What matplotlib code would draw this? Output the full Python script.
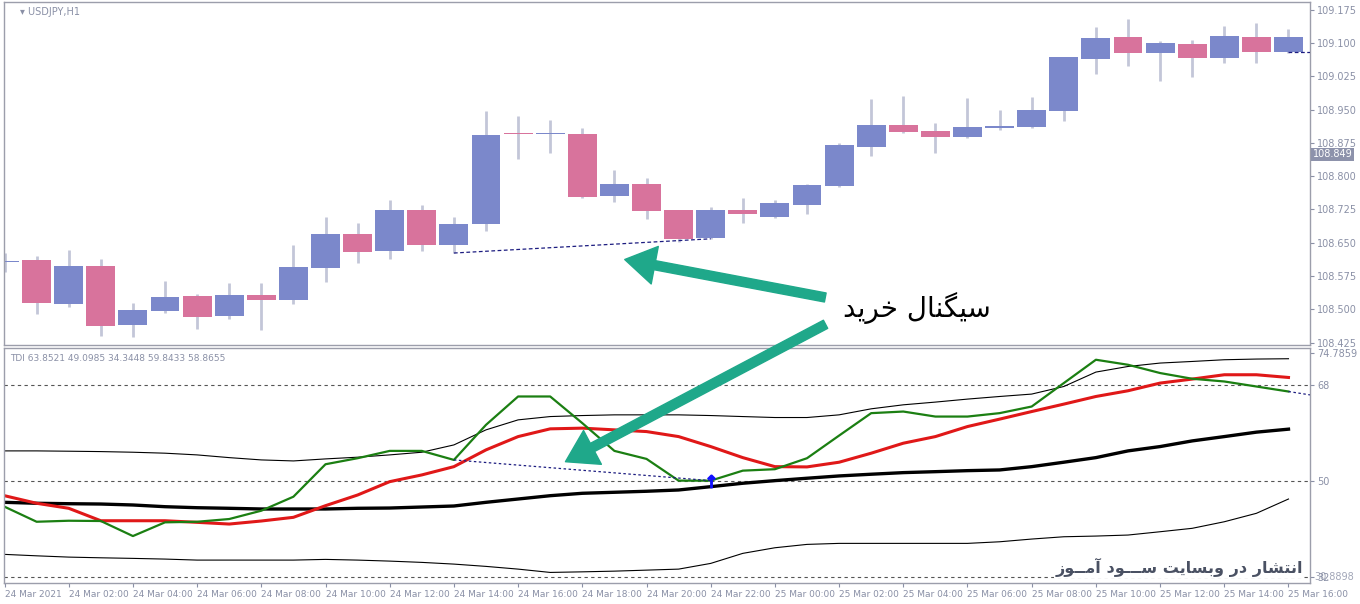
import matplotlib.pyplot as plt
import numpy as np
from matplotlib.patches import FancyArrowPatch
from matplotlib.transforms import blended_transform_factory

# USDJPY H1, 24 Mar 2021 00:00 .. 25 Mar 16:00
opens = [108.606, 108.611, 108.512, 108.598, 108.465, 108.496, 108.530, 108.485, 108.532, 108.521,
         108.593, 108.670, 108.632, 108.724, 108.645, 108.692, 108.895, 108.894, 108.895, 108.755,
         108.783, 108.724, 108.661, 108.724, 108.708, 108.735, 108.778, 108.866, 108.915, 108.902,
         108.888, 108.909, 108.911, 108.947, 109.064, 109.114, 109.078, 109.098, 109.066, 109.114, 109.080]
highs = [108.627, 108.620, 108.634, 108.614, 108.514, 108.564, 108.535, 108.559, 108.559, 108.645,
         108.708, 108.695, 108.746, 108.735, 108.708, 108.947, 108.936, 108.927, 108.909, 108.814,
         108.796, 108.724, 108.731, 108.751, 108.746, 108.783, 108.875, 108.974, 108.981, 108.920,
         108.976, 108.949, 108.978, 109.068, 109.136, 109.154, 109.105, 109.107, 109.138, 109.145, 109.132]
lows = [108.584, 108.490, 108.505, 108.440, 108.438, 108.492, 108.456, 108.478, 108.454, 108.512,
        108.562, 108.605, 108.614, 108.632, 108.627, 108.677, 108.839, 108.852, 108.751, 108.742,
        108.704, 108.652, 108.659, 108.695, 108.706, 108.715, 108.776, 108.846, 108.897, 108.852,
        108.886, 108.904, 108.909, 108.924, 109.030, 109.048, 109.014, 109.023, 109.055, 109.055, 109.078]
closes = [108.609, 108.514, 108.598, 108.463, 108.499, 108.528, 108.483, 108.532, 108.521, 108.596,
          108.670, 108.629, 108.724, 108.645, 108.692, 108.893, 108.894, 108.895, 108.753, 108.783,
          108.722, 108.659, 108.724, 108.715, 108.740, 108.780, 108.870, 108.915, 108.900, 108.888,
          108.911, 108.913, 108.949, 109.068, 109.111, 109.078, 109.100, 109.066, 109.116, 109.080, 109.114]

# TDI indicator lines
tdi_green = [45.18, 42.36, 42.55, 42.50, 39.68, 42.25, 42.36, 42.87, 44.43, 47.05,
             53.13, 54.26, 55.63, 55.63, 53.94, 60.51, 65.82, 65.82, 60.83, 55.63,
             54.13, 50.06, 50.06, 51.93, 52.20, 54.26, 58.50, 62.70, 63.00, 62.06,
             62.06, 62.70, 63.94, 68.33, 72.70, 71.76, 70.21, 69.14, 68.63, 67.69, 66.75]
tdi_red = [47.24, 45.82, 44.88, 42.55, 42.55, 42.55, 42.25, 41.93, 42.50, 43.19,
           45.37, 47.37, 49.87, 51.13, 52.68, 55.82, 58.31, 59.76, 59.89, 59.57,
           59.25, 58.31, 56.44, 54.37, 52.68, 52.63, 53.51, 55.20, 57.07, 58.31,
           60.19, 61.58, 63.00, 64.39, 65.82, 66.89, 68.33, 69.08, 69.89, 69.89, 69.38]
tdi_base = [46.00, 45.82, 45.74, 45.68, 45.50, 45.18, 44.99, 44.88, 44.75, 44.75,
            44.75, 44.88, 44.93, 45.12, 45.31, 46.00, 46.62, 47.24, 47.69, 47.88,
            48.07, 48.31, 48.93, 49.57, 50.06, 50.51, 50.94, 51.26, 51.56, 51.74,
            51.93, 52.06, 52.68, 53.51, 54.37, 55.63, 56.44, 57.50, 58.31, 59.14, 59.70]
tdi_upper = [55.63, 55.63, 55.57, 55.50, 55.38, 55.20, 54.88, 54.37, 53.94, 53.75,
             54.13, 54.45, 54.88, 55.38, 56.75, 59.57, 61.44, 62.06, 62.25, 62.38,
             62.38, 62.38, 62.25, 62.06, 61.88, 61.88, 62.38, 63.51, 64.26, 64.77,
             65.33, 65.82, 66.27, 67.69, 70.39, 71.44, 72.08, 72.38, 72.70, 72.83, 72.89]
tdi_lower = [36.25, 35.98, 35.74, 35.61, 35.50, 35.37, 35.18, 35.18, 35.18, 35.18,
             35.31, 35.18, 34.99, 34.75, 34.43, 34.00, 33.49, 32.87, 32.98, 33.11,
             33.30, 33.49, 34.56, 36.44, 37.49, 38.12, 38.31, 38.31, 38.31, 38.31,
             38.31, 38.61, 39.12, 39.55, 39.68, 39.87, 40.49, 41.13, 42.36, 43.94, 46.62]
tdi_levels = [32, 50, 68]

price_ticks = [108.425, 108.500, 108.575, 108.650, 108.725, 108.800,
               108.875, 108.950, 109.025, 109.100, 109.175]
time_labels = ["24 Mar 2021", "24 Mar 02:00", "24 Mar 04:00", "24 Mar 06:00", "24 Mar 08:00",
               "24 Mar 10:00", "24 Mar 12:00", "24 Mar 14:00", "24 Mar 16:00", "24 Mar 18:00",
               "24 Mar 20:00", "24 Mar 22:00", "25 Mar 00:00", "25 Mar 02:00", "25 Mar 04:00",
               "25 Mar 06:00", "25 Mar 08:00", "25 Mar 10:00", "25 Mar 12:00", "25 Mar 14:00",
               "25 Mar 16:00"]

# Persian text, written with presentation forms in visual order (no shaping engine in matplotlib)
signal_text = "\uFEB3\uFBFF\uFB95\uFEE8\uFE8E\uFEDD \uFEA7\uFEAE\uFBFE\uFEAA"[::-1]   # سیگنال خرید
site_text = ("\uFE8D\uFEE7\uFE98\uFEB8\uFE8E\uFEAD \uFEA9\uFEAD \uFEED\uFE91\uFEB4\uFE8E\uFBFE\uFE96 "
             "\uFEB3\u0640\u0640\u0640\uFEEE\uFEA9 \uFE81\uFEE3\u0640\u0640\uFEEE\uFEAF")[::-1]  # انتشار در وبسایت ســود آمــوز

BLUE = "#7b88cb"
PINK = "#d8739c"
WICK = "#c3c6d8"
TXT = "#8a90a6"
SPINE = "#9c9eab"
NAVY = "#1c1c80"
TEAL = "#1fa88a"

W, H = 1360, 604


def box(l, t, r, b):
    return [l / W, 1 - b / H, (r - l) / W, (b - t) / H]


fig = plt.figure(figsize=(W / 100, H / 100), dpi=100)
ax1 = fig.add_axes(box(4, 2, 1310, 345))
ax2 = fig.add_axes(box(4, 348, 1310, 583))

x = np.arange(len(opens))
o, h, l, c = (np.array(v) for v in (opens, highs, lows, closes))
cols = np.where(c >= o, BLUE, PINK)

# candles
ax1.vlines(x, l, h, color=WICK, lw=2, zorder=1)
ax1.bar(x, np.maximum(np.abs(c - o), 0.004), bottom=np.minimum(o, c), width=0.9,
        color=cols, zorder=2)
ax1.plot([14, 22], [lows[14], lows[22]], color=NAVY, lw=0.9, ls=(0, (3, 2)), zorder=3)
ax1.plot([40, 40.8], [closes[39], closes[39]], color=NAVY, lw=0.9, ls=(0, (3, 2)), zorder=3)

ax1.set_xlim(-0.016, 40.67)
ax1.set_ylim(108.420, 109.192)
ax1.yaxis.tick_right()
ax1.set_yticks(price_ticks)
ax1.set_yticklabels([f"{p:.3f}" for p in price_ticks])
ax1.set_xticks([])
ax1.tick_params(axis="y", colors=TXT, labelsize=7, length=3, width=0.8, pad=2)
ax1.text(0.012, 0.985, "\u25BE USDJPY,H1", transform=ax1.transAxes, fontsize=7,
         color=TXT, va="top")
tr1 = blended_transform_factory(ax1.transAxes, ax1.transData)
ax1.text(1.002, 108.849, "108.849", transform=tr1, fontsize=7, color="white", va="center",
         ha="left", bbox=dict(boxstyle="square,pad=0.15", fc="#8d92ab", ec="none"))

# TDI panel
ax2.plot(x, tdi_upper, color="black", lw=0.8)
ax2.plot(x, tdi_lower, color="black", lw=0.8)
ax2.plot(x, tdi_base, color="black", lw=2.4)
ax2.plot(x, tdi_red, color="#e01818", lw=2.2)
ax2.plot(x, tdi_green, color="#1b7f12", lw=1.6)
for lev in tdi_levels:
    ax2.axhline(lev, color="#555555", lw=0.8, ls=(0, (3, 3)), zorder=0)
ax2.plot([14, 22], [tdi_green[14], tdi_green[22]], color=NAVY, lw=0.9, ls=(0, (2, 2)))
ax2.plot([40, 40.8], [tdi_green[40], tdi_green[40] + 0.8 * (tdi_green[40] - tdi_green[39])],
         color=NAVY, lw=0.9, ls=(0, (2, 2)))
ax2.plot(22, tdi_green[22], marker="$\u2191$", color="#1010ff", ms=9)

ax2.set_xlim(-0.016, 40.67)
ax2.set_ylim(30.8898, 74.9)
ax2.yaxis.tick_right()
ax2.set_yticks([32, 50, 68, 74.0])
ax2.set_yticklabels(["32", "50", "68", "74.7859"])
ax2.set_xticks(x[::2])
ax2.set_xticklabels(time_labels, ha="left")
ax2.tick_params(axis="y", colors=TXT, labelsize=7, length=3, width=0.8, pad=2)
ax2.tick_params(axis="x", colors=TXT, labelsize=6.5, length=3, width=0.8, pad=2)
ax2.text(1.003, 32, "30.8898", transform=blended_transform_factory(ax2.transAxes, ax2.transData),
         fontsize=7, color=TXT, va="center", alpha=0.8)
ax2.text(0.005, 0.975, "TDI 63.8521 49.0985 34.3448 59.8433 58.8655", transform=ax2.transAxes,
         fontsize=6.5, color=TXT, va="top")

for ax in (ax1, ax2):
    for s in ax.spines.values():
        s.set_color(SPINE)
        s.set_linewidth(1.0)

# annotation arrows and texts (figure coordinates)
for tail, head in [((828, 298), (622, 259)), ((828, 323), (563, 463))]:
    arr = FancyArrowPatch((tail[0] / W, 1 - tail[1] / H), (head[0] / W, 1 - head[1] / H),
                          transform=fig.transFigure,
                          arrowstyle="simple,head_length=1.0,head_width=1.25,tail_width=0.3",
                          mutation_scale=22, color=TEAL, zorder=10)
    fig.add_artist(arr)

fig.text(917 / W, 1 - 308 / H, signal_text, fontsize=20, color="black",
         ha="center", va="center", zorder=11)
fig.text(1179 / W, 1 - 567 / H, site_text, fontsize=11.5, fontweight="bold", color="#4a5163",
         ha="center", va="center", zorder=11,
         bbox=dict(boxstyle="square,pad=0.1", fc="white", ec="none"))

fig.savefig("out.png", dpi=100)
